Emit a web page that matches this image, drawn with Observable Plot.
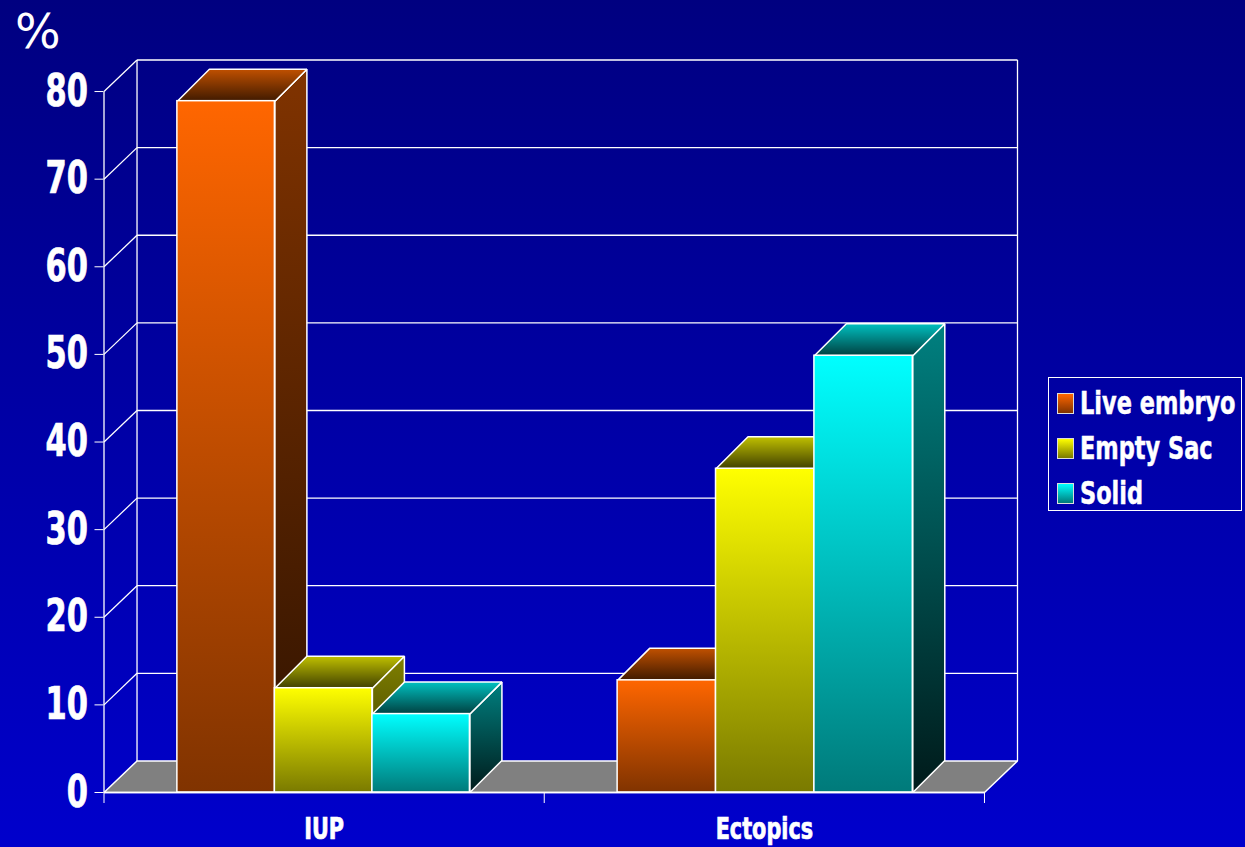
<!DOCTYPE html>
<html>
<head>
<meta charset="utf-8">
<script src="https://cdn.jsdelivr.net/npm/d3@7"></script>
<script src="https://cdn.jsdelivr.net/npm/@observablehq/plot@0.6"></script>
<style>
html,body{margin:0;padding:0;width:1245px;height:847px;overflow:hidden;background:linear-gradient(#000080,#0000cc);}
#chart{position:absolute;left:0;top:0;}
#chart text{stroke:white;stroke-width:0.7px;}
#unit{position:absolute;left:15px;top:3px;font:48px "DejaVu Sans";color:#fff;line-height:56px;}
#legend{position:absolute;left:1048px;top:377px;width:192px;height:132px;border:1px solid #fff;font:bold 32px "DejaVu Sans Condensed","DejaVu Sans";font-stretch:condensed;color:#fff;-webkit-text-stroke:0.5px #fff;}
#legend .row{position:absolute;left:8px;height:22px;display:flex;align-items:center;white-space:nowrap;}
#legend .sw{width:15px;height:19px;border:1px solid #ddd;margin-right:6px;flex:none;}
#legend .name{display:inline-block;transform:scaleX(0.78);transform-origin:left center;}
</style>
</head>
<body>
<div id="chart"></div>
<div id="unit">%</div>
<div id="legend"></div>
<script>
const categories = ["IUP", "Ectopics"];
const seriesNames = ["Live embryo", "Empty Sac", "Solid"];
const liveEmbryo = [78.9, 12.8];
const emptySac = [11.9, 36.95];
const solid = [8.95, 49.85];
const seriesValues = [liveEmbryo, emptySac, solid];
const yTicks = [0, 10, 20, 30, 40, 50, 60, 70, 80];
const frontTop = ["#ff6600", "#ffff00", "#00ffff"];
const frontBottom = ["#803300", "#7a7a00", "#007a7a"];
const sideTop = ["#803300", "#808000", "#008080"];
const roofBack = ["#c05000", "#c0c000", "#00c0c0"];
const roofFront = ["#401a00", "#404000", "#004040"];
const sideBottom = ["#301300", "#303000", "#001a1a"];

const wallDx = 0.075, wallDy = 3.6, barDx = 0.0727, barDy = 3.65;
const barW = [0.2215, 0.2235], barGap = 1 / 6;
const xMax = categories.length;
const narrow = 0.77;

const stop = (c, o) => `<stop offset="${o}" stop-color="${c}"/>`;
const grad = (id, a, b) => `<linearGradient id="${id}" x1="0" y1="0" x2="0" y2="1">${stop(a, 0)}${stop(b, 1)}</linearGradient>`;
const defs = () => {
  const g = document.createElementNS("http://www.w3.org/2000/svg", "defs");
  g.innerHTML = seriesNames.map((_, i) =>
    grad("front" + i, frontTop[i], frontBottom[i]) +
    grad("roof" + i, roofBack[i], roofFront[i]) +
    grad("side" + i, sideTop[i], sideBottom[i])).join("");
  return g;
};

const edge = {stroke: "white", strokeWidth: 1.5, strokeLinejoin: "miter", strokeLinecap: "butt"};
const poly = (pts, fill, extra = edge) => Plot.line(pts, {x: "0", y: "1", fill, ...extra});
const grid = {stroke: "white", strokeWidth: 1.3};

const bars = categories.flatMap((_, c) => seriesNames.flatMap((_, s) => {
  const v = seriesValues[s][c];
  const x0 = c + barGap + s * barW[c], x1 = x0 + barW[c];
  return [
    poly([[x1, 0], [x1 + barDx, barDy], [x1 + barDx, v + barDy], [x1, v], [x1, 0]], `url(#side${s})`),
    poly([[x0, v], [x0 + barDx, v + barDy], [x1 + barDx, v + barDy], [x1, v], [x0, v]], `url(#roof${s})`),
    Plot.rect([v], {x1: x0, x2: x1, y1: 0, y2: d => d, fill: `url(#front${s})`, ...edge})
  ];
}));

const plot = Plot.plot({
  width: 1245, height: 847,
  marginLeft: 103.5, marginRight: 228, marginTop: 59.5, marginBottom: 55,
  style: {background: "transparent", fontFamily: '"DejaVu Sans Condensed","DejaVu Sans"', fontStretch: "condensed", overflow: "visible"},
  x: {domain: [0, xMax + wallDx], axis: null},
  y: {domain: [0, 80 + wallDy], axis: null},
  marks: [
    defs,
    poly([[0, 0], [wallDx, wallDy], [xMax + wallDx, wallDy], [xMax, 0], [0, 0]], "#808080"),
    Plot.link(yTicks.slice(1), {x1: wallDx, x2: xMax + wallDx, y1: d => d + wallDy, y2: d => d + wallDy, ...grid}),
    Plot.link(yTicks.slice(1), {x1: 0, x2: wallDx, y1: d => d, y2: d => d + wallDy, ...grid}),
    Plot.link([wallDx, xMax + wallDx], {x1: d => d, x2: d => d, y1: wallDy, y2: 80 + wallDy, ...grid}),
    Plot.link([0], {x1: 0, x2: 0, y1: 0, y2: 80, ...grid}),
    Plot.axisY({ticks: yTicks, tickSize: 9, tickPadding: 7, color: "white", fontSize: 44, fontWeight: "bold", label: null, tickFormat: d => d}),
    Plot.axisX({ticks: [0, 1, 2], tickSize: 11, color: "white", tickFormat: () => "", label: null}),
    ...bars,
    Plot.link([0], {x1: 0, x2: xMax, y1: 0, y2: 0, stroke: "white", strokeWidth: 1.5}),
    Plot.text(categories, {x: (d, i) => i + 0.5, y: 0, dy: 37, text: d => d, fill: "white", fontSize: 30, fontWeight: "bold"})
  ]
});
document.getElementById("chart").append(plot);
plot.querySelectorAll("text").forEach(t => {
  const n = t.getComputedTextLength();
  if (n > 0) {
    t.setAttribute("textLength", n * narrow);
    t.setAttribute("lengthAdjust", "spacingAndGlyphs");
  }
});

const legend = document.getElementById("legend");
seriesNames.forEach((name, i) => {
  const row = document.createElement("div");
  row.className = "row";
  row.style.top = (14 + i * 45) + "px";
  const sw = document.createElement("span");
  sw.className = "sw";
  sw.style.background = `linear-gradient(${frontTop[i]},${frontBottom[i]})`;
  const label = document.createElement("span");
  label.className = "name";
  label.textContent = name;
  row.append(sw, label);
  legend.append(row);
});
</script>
</body>
</html>
